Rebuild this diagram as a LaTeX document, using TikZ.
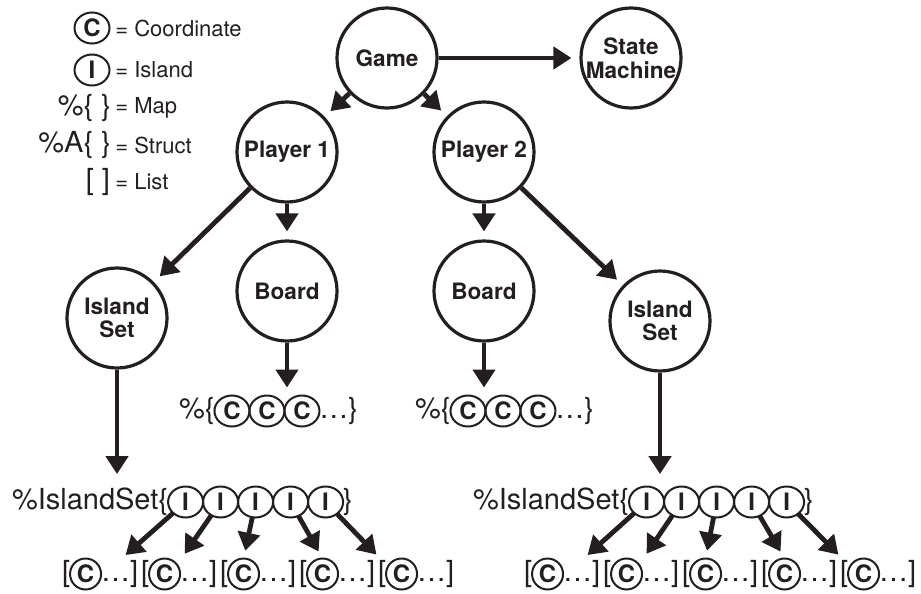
\documentclass[tikz,border=0pt]{standalone}
\usepackage{fontspec}
\setmainfont{TeX Gyre Heros}
\usepackage{xcolor}
\usepackage{tikz}
\usetikzlibrary{arrows.meta}
\usetikzlibrary{shapes.geometric}
\usetikzlibrary{positioning}
\definecolor{ink}{HTML}{231F20}

\newcommand{\listitem}[2]{%
  \node[code,anchor=west] (#1o) at #2 {[};
  \node[elem,minimum width=15.5pt,right=0pt of #1o] (#1c) {C};
  \node[code,right=0pt of #1c] (#1e) {…]};
}

\begin{document}
\begin{tikzpicture}[x=0.5pt,y=-0.5pt,color=ink,
    entity/.style={circle,draw,line width=1.6pt,minimum size=50pt,inner sep=0pt,align=center,font=\bfseries\fontsize{11.3}{11.8}\selectfont},
    elem/.style={ellipse,draw,line width=1pt,minimum width=17.5pt,minimum height=15.5pt,inner sep=0pt,outer sep=0pt,font=\bfseries\fontsize{12}{13}\selectfont},
    code/.style={inner sep=0pt,outer sep=0pt,font=\fontsize{14.5}{16}\selectfont},
    legword/.style={inner sep=0pt,anchor=west,font=\fontsize{11}{13}\selectfont},
    link/.style={line width=2.4pt,-{Triangle[length=9pt,width=11pt]},shorten >=4pt}]
        \useasboundingbox (0,0) rectangle (921,594);

        \node[elem] (legC) at (92,28) {C};
        \node[legword] (legCword) at (115,28) {= Coordinate};
        \node[elem] (legI) at (92,70) {I};
        \node[legword] (legIword) at (115,70) {= Island};
        \node[code,anchor=east] (legMap) at (111,108) {\%\{ \}};
        \node[legword] (legMapword) at (115,108) {= Map};
        \node[code,anchor=east] (legStruct) at (111,145) {\%A\{ \}};
        \node[legword] (legStructword) at (115,145) {= Struct};
        \node[code,anchor=east] (legList) at (110,182) {[ ]};
        \node[legword] (legListword) at (115,182) {= List};

        \node[entity] (game) at (387,58) {Game};
        \node[entity] (sm) at (631,58) {State\\Machine};
        \node[entity] (p1) at (287,152) {Player 1};
        \node[entity] (p2) at (484,152) {Player 2};
        \node[entity] (isL) at (117,318) {Island\\Set};
        \node[entity] (boardL) at (287,291) {Board};
        \node[entity] (boardR) at (484,291) {Board};
        \node[entity] (isR) at (660,321) {Island\\Set};

        \draw[link] (game) -- (sm);
        \draw[link] (game) -- (p1);
        \draw[link] (game) -- (p2);
        \draw[link] (p1) -- (isL);
        \draw[link] (p1) -- (boardL);
        \draw[link] (p2) -- (boardR);
        \draw[link] (p2) -- (isR);

        \node[code,anchor=west] (mapL) at (179,411) {\%\{};
        \node[elem,right=0pt of mapL] (mapL1) {C};
        \node[elem,right=0pt of mapL1] (mapL2) {C};
        \node[elem,right=0pt of mapL2] (mapL3) {C};
        \node[code,right=0pt of mapL3] (mapLend) {…\}};
        \draw[link] (boardL) -- (boardL |- mapL2.north);

        \node[code,anchor=west] (mapR) at (415,411) {\%\{};
        \node[elem,right=0pt of mapR] (mapR1) {C};
        \node[elem,right=0pt of mapR1] (mapR2) {C};
        \node[elem,right=0pt of mapR2] (mapR3) {C};
        \node[code,right=0pt of mapR3] (mapRend) {…\}};
        \draw[link] (boardR) -- (boardR |- mapR2.north);

        \node[code,anchor=west] (setL) at (12,502) {\%IslandSet\{};
        \node[elem,right=0pt of setL] (iL1) {I};
        \node[elem,right=0pt of iL1] (iL2) {I};
        \node[elem,right=0pt of iL2] (iL3) {I};
        \node[elem,right=0pt of iL3] (iL4) {I};
        \node[elem,right=0pt of iL4] (iL5) {I};
        \node[code,right=0pt of iL5] (setLend) {\}};
        \draw[link,shorten >=7pt] (isL) -- (isL |- setL.north);

        \node[code,anchor=west] (setR) at (473,502) {\%IslandSet\{};
        \node[elem,right=0pt of setR] (iR1) {I};
        \node[elem,right=0pt of iR1] (iR2) {I};
        \node[elem,right=0pt of iR2] (iR3) {I};
        \node[elem,right=0pt of iR3] (iR4) {I};
        \node[elem,right=0pt of iR4] (iR5) {I};
        \node[code,right=0pt of iR5] (setRend) {\}};
        \draw[link,shorten >=7pt] (isR) -- (isR |- setR.north);

        \listitem{lstL1}{(62,574)}
        \listitem{lstL2}{(141,574)}
        \listitem{lstL3}{(220,574)}
        \listitem{lstL4}{(299,574)}
        \listitem{lstL5}{(378,574)}
        \draw[link] (iL1) -- (lstL1e.north);
        \draw[link] (iL2) -- (lstL2e.north west);
        \draw[link] (iL3) -- (lstL3c.north);
        \draw[link] (iL4) -- (lstL4c.north);
        \draw[link] (iL5) -- (lstL5o.north);

        \listitem{lstR1}{(524,574)}
        \listitem{lstR2}{(603,574)}
        \listitem{lstR3}{(682,574)}
        \listitem{lstR4}{(761,574)}
        \listitem{lstR5}{(840,574)}
        \draw[link] (iR1) -- (lstR1e.north);
        \draw[link] (iR2) -- (lstR2e.north west);
        \draw[link] (iR3) -- (lstR3c.north);
        \draw[link] (iR4) -- (lstR4c.north);
        \draw[link] (iR5) -- (lstR5o.north);
    \end{tikzpicture}
\end{document}
